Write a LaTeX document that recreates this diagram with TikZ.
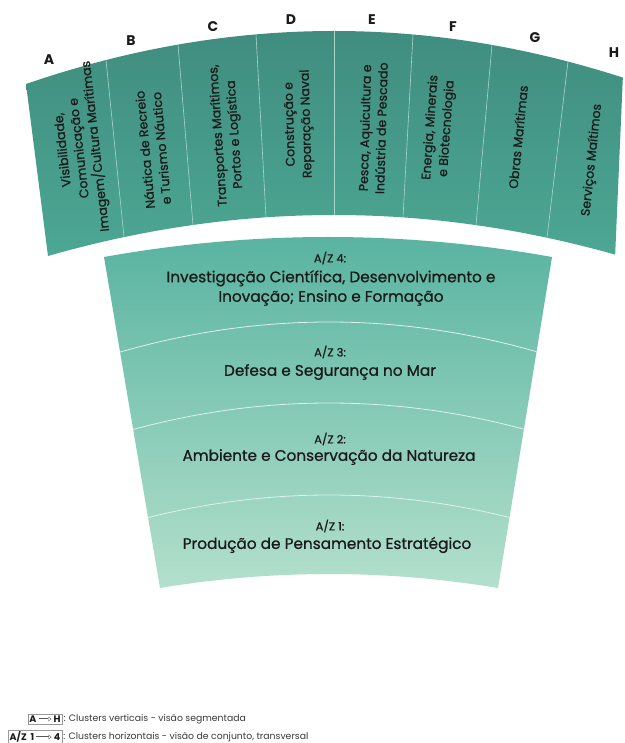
\documentclass[tikz,border=0pt]{standalone}
\usepackage{fontspec}
\setmainfont{Poppins}
\newfontfamily\medfont{Poppins}[FakeBold=0.8]
\usetikzlibrary{calc,arrows.meta,fit}
\definecolor{upTop}{HTML}{3F8B7D}
\definecolor{upBot}{HTML}{4CA793}
\definecolor{loTop}{HTML}{57B3A0}
\definecolor{loBot}{HTML}{B3E0CC}
\definecolor{upLine}{HTML}{A8D6CB}
\definecolor{loLine}{HTML}{DDF2EB}
\definecolor{txt}{HTML}{1A1A1A}
\definecolor{legtxt}{HTML}{3A3A3A}
\def\upperfan{(26,84) .. controls (231.33,13.33) and (436.67,13.33) .. (642,84) -- (620,256) .. controls (429.33,201.33) and (238.67,201.33) .. (48,256) -- cycle}
\def\lowerfan{(104,257) .. controls (253.33,230.33) and (402.67,230.33) .. (552,257) -- (498,588) .. controls (385.33,569.33) and (272.67,569.33) .. (160,588) -- cycle}
\tikzset{
  seg/.style={font=\medfont\fontsize{12.5}{16.5}\selectfont, align=center, text=txt, inner sep=0pt},
  letter/.style={font=\fontsize{14}{16}\selectfont\bfseries, text=txt, inner sep=0pt},
  azhead/.style={font=\medfont\fontsize{11.5}{13}\selectfont, text=txt, inner sep=0pt},
  aztitle/.style={font=\medfont\fontsize{15.3}{19.5}\selectfont, align=center, text=txt, inner sep=0pt},
  updiv/.style={draw=upLine, line width=0.6pt},
  lodiv/.style={draw=loLine, line width=0.8pt},
  legb/.style={font=\fontsize{9.5}{11}\selectfont\bfseries, text=txt, inner sep=0.5pt},
  legt/.style={font=\fontsize{9.3}{11}\selectfont, text=legtxt, inner sep=0pt, anchor=west},
  legbox/.style={draw=gray!80, line width=0.4pt, inner sep=1pt},
  legarrow/.style={draw=gray!70!black, line width=0.35pt, double=white, double distance=0.9pt, -{Triangle[open,length=3pt,width=4.5pt]}, shorten <=1.5pt, shorten >=1.5pt}
}
\begin{document}
\begin{tikzpicture}[x=1pt,y=-1pt]
\useasboundingbox (0,0) rectangle (624,743);
\fill[white] (0,0) rectangle (624,743);
% upper fan
\begin{scope}
  \clip (0,-5) -- (626.4,-5) -- (613.2,300) -- (0,300) -- cycle;
  \shade[top color=upTop, bottom color=upBot] \upperfan;
  \clip \upperfan;
  \draw[updiv] (106,60.0) -- (124,237.1);
  \draw[updiv] (178,44.6) -- (193,225.0);
  \draw[updiv] (256,34.4) -- (266,217.3);
  \draw[updiv] (334,30) -- (334,216);
  \draw[updiv] (413,34.5) -- (403,217.4);
  \draw[updiv] (492,44.9) -- (476,225.1);
  \draw[updiv] (568,61.6) -- (547,237.7);
\end{scope}
% lower fan
\begin{scope}
  \shade[top color=loTop, bottom color=loBot] \lowerfan;
  \clip \lowerfan;
  \draw[lodiv] (89,361.7) .. controls (249,308.77) and (409,308.77) .. (569,361.7);
  \draw[lodiv] (89,442.7) .. controls (249,389.77) and (409,389.77) .. (569,442.7);
  \draw[lodiv] (89,534.7) .. controls (249,481.77) and (409,481.77) .. (569,534.7);
\end{scope}
% letters
\node[letter] (lA) at (49,60) {A};
\node[letter] (lB) at (131,41) {B};
\node[letter] (lC) at (213,27) {C};
\node[letter] (lD) at (291,20) {D};
\node[letter] (lE) at (372,20) {E};
\node[letter] (lF) at (453,27) {F};
\node[letter] (lG) at (535,38) {G};
\node[letter] (lH) at (614,53) {H};
% segment texts
\node[seg, rotate=96.5] (sA) at (80,148) {Visibilidade,\\Comunicação e\\Imagem/Cultura Marítimas};
\node[seg, rotate=95.2] (sB) at (153,149) {Náutica de Recreio\\e Turismo Náutico};
\node[seg, rotate=93.9] (sC) at (227,135) {Transportes Marítimos,\\Portos e Logística};
\node[seg, rotate=91.6] (sD) at (299,124) {Construção e\\Reparação Naval};
\node[seg, rotate=88.4] (sE) at (373,128) {Pesca, Aquicultura e\\Indústria de Pescado};
\node[seg, rotate=85.9] (sF) at (439,128) {Energia, Minerais\\e Biotecnologia};
\node[seg, rotate=84.2] (sG) at (518,137) {Obras Marítimas};
\node[seg, rotate=84.0] (sH) at (592,160) {Serviços Maítimos};
% lower texts
\node[azhead] (z4h) at (330,258) {A/Z 4:};
\node[aztitle] (z4t) at (331,288) {Investigação Científica, Desenvolvimento e\\Inovação; Ensino e Formação};
\node[azhead] (z3h) at (330,352) {A/Z 3:};
\node[aztitle] (z3t) at (330,372) {Defesa e Segurança no Mar};
\node[azhead] (z2h) at (330,439) {A/Z 2:};
\node[aztitle] (z2t) at (329,457) {Ambiente e Conservação da Natureza};
\node[azhead] (z1h) at (330,526) {A/Z 1:};
\node[aztitle] (z1t) at (327,545) {Produção de Pensamento Estratégico};
% legend
\node[legb] (gA) at (33,719) {A};
\node[legb] (gH) at (57,719) {H};
\draw[legarrow] (gA) -- (gH);
\node[legbox, fit=(gA)(gH)] (gbox1) {};
\node[legt] (gt1) at ([xshift=1pt]gbox1.east) {: Clusters verticais - visão segmentada};
\node[legb] (gAZ) at (22,737) {A/Z\ \ 1};
\node[legb] (g4) at (57,737) {4};
\draw[legarrow] (gAZ) -- (g4);
\node[legbox, fit=(gAZ)(g4)] (gbox2) {};
\node[legt] (gt2) at ([xshift=1pt]gbox2.east) {: Clusters horizontais - visão de conjunto, transversal};
\end{tikzpicture}
\end{document}
